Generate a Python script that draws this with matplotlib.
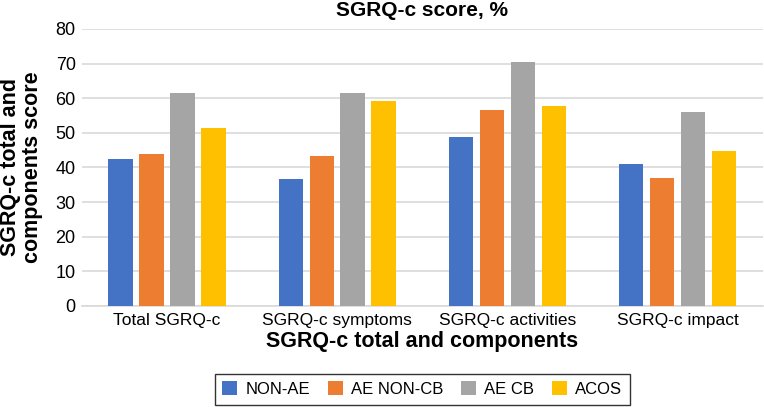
import numpy as np
import matplotlib.pyplot as plt

plt.rcParams['font.family'] = ['Liberation Sans', 'DejaVu Sans']

categories = ["Total SGRQ-c", "SGRQ-c symptoms", "SGRQ-c activities", "SGRQ-c impact"]
series_names = ["NON-AE", "AE NON-CB", "AE CB", "ACOS"]
non_ae = [42.5, 36.8, 48.8, 40.9]
ae_non_cb = [43.9, 43.3, 56.7, 36.9]
ae_cb = [61.4, 61.6, 70.4, 55.9]
acos = [51.4, 59.2, 57.9, 44.8]
colors = ["#4472C4", "#ED7D31", "#A5A5A5", "#FFC000"]

fig = plt.figure(figsize=(7.64, 4.07), dpi=100)
ax = fig.add_axes([0.1073, 0.2482, 0.891, 0.6806])

x = np.arange(len(categories))
w = 0.144
step = 0.182
for i, vals in enumerate([non_ae, ae_non_cb, ae_cb, acos]):
    ax.bar(x + (i - 1.5) * step, vals, width=w, color=colors[i], label=series_names[i], zorder=3)

ax.set_xlim(-0.5, len(categories) - 0.5)
ax.set_ylim(0, 80)
ax.set_yticks(range(0, 81, 10))
ax.set_xticks(x)
ax.set_xticklabels(categories, fontsize=12.5)
ax.tick_params(axis='y', labelsize=13, length=0, pad=4.5)
ax.tick_params(axis='x', length=0, pad=5)
ax.grid(axis='y', color='#D9D9D9', linewidth=1.2, zorder=0)
for s in ['top', 'right', 'left']:
    ax.spines[s].set_visible(False)
ax.spines['bottom'].set_color('#D9D9D9')
ax.spines['bottom'].set_linewidth(1.2)

ax.set_title("SGRQ-c score, %", fontsize=15, fontweight='bold', pad=9)
ax.set_xlabel("SGRQ-c total and components", fontsize=15.5, fontweight='bold', labelpad=2)
ax.set_ylabel("SGRQ-c total and\ncomponents score", fontsize=15.5, fontweight='bold',
              labelpad=9, linespacing=1.05)

leg = ax.legend(loc='upper center', bbox_to_anchor=(0.5, -0.2455), ncol=4, fontsize=12,
                frameon=True, fancybox=False, edgecolor='black', handlelength=0.9,
                handleheight=0.9, columnspacing=1.08, handletextpad=0.48, borderpad=0.45,
                borderaxespad=0)
leg.get_frame().set_linewidth(1.0)

fig.savefig("out.png", dpi=100)
